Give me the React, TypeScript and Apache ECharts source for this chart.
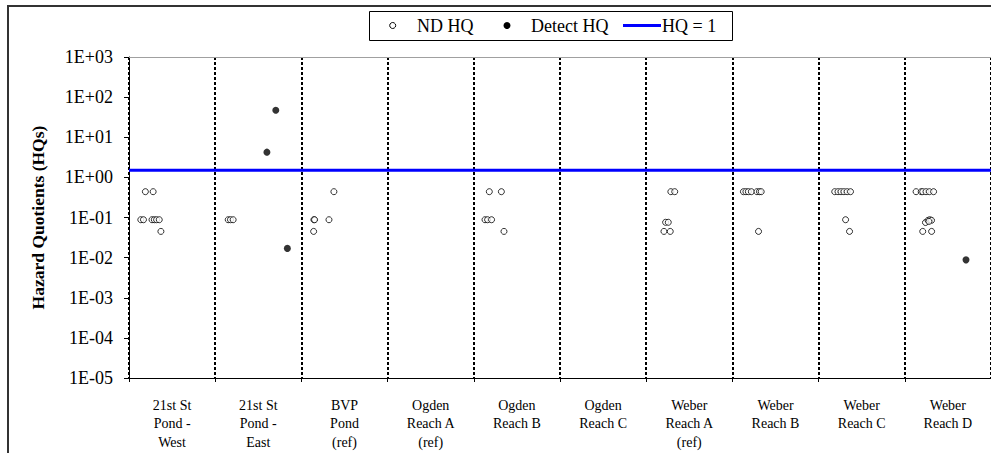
import React, { useEffect, useRef } from "react";
import * as echarts from "echarts";

// Sampling locations along the x axis
const categories = [
  "21st St\nPond -\nWest",
  "21st St\nPond -\nEast",
  "BVP\nPond\n(ref)",
  "Ogden\nReach A\n(ref)",
  "Ogden\nReach B",
  "Ogden\nReach C",
  "Weber\nReach A\n(ref)",
  "Weber\nReach B",
  "Weber\nReach C",
  "Weber\nReach D",
];

// Log-axis tick labels, from 1E-05 up to 1E+03
const yTickLabels = ["1E-05", "1E-04", "1E-03", "1E-02", "1E-01", "1E+00", "1E+01", "1E+02", "1E+03"];

// Non-detect hazard quotients: [position along the location axis, HQ]
const ndHQ: [number, number][] = [
  // 21st St Pond - West
  [0.19, 0.44], [0.28, 0.44],
  [0.137, 0.088], [0.168, 0.088], [0.267, 0.088], [0.294, 0.088], [0.32, 0.088], [0.351, 0.088],
  [0.37, 0.045],
  // 21st St Pond - East
  [1.151, 0.088], [1.177, 0.088], [1.208, 0.088],
  // BVP Pond (ref)
  [2.377, 0.44],
  [2.145, 0.088], [2.153, 0.088], [2.32, 0.088],
  [2.142, 0.045],
  // Ogden Reach B
  [4.18, 0.44], [4.32, 0.44],
  [4.13, 0.088], [4.16, 0.088], [4.206, 0.088],
  [4.35, 0.045],
  // Weber Reach A (ref)
  [6.286, 0.44], [6.331, 0.44],
  [6.225, 0.076], [6.256, 0.076],
  [6.206, 0.045], [6.279, 0.045],
  // Weber Reach B
  [7.128, 0.44], [7.157, 0.44], [7.185, 0.44], [7.22, 0.44], [7.285, 0.44], [7.314, 0.44], [7.334, 0.44],
  [7.303, 0.045],
  // Weber Reach C
  [8.187, 0.44], [8.225, 0.44], [8.26, 0.44], [8.294, 0.44], [8.331, 0.44], [8.37, 0.44],
  [8.313, 0.088],
  [8.359, 0.045],
  // Weber Reach D
  [9.131, 0.44], [9.19, 0.44], [9.208, 0.44], [9.246, 0.44], [9.285, 0.44], [9.334, 0.44],
  [9.24, 0.075], [9.27, 0.085], [9.29, 0.088], [9.31, 0.085], [9.28, 0.08],
  [9.208, 0.045], [9.311, 0.045],
];

// Detected hazard quotients: [position along the location axis, HQ]
const detectHQ: [number, number][] = [
  [1.6, 4.25], [1.703, 47], [1.837, 0.017],
  [9.71, 0.0088],
];

// Reference threshold line
const hqLineLevel = 1.5;

const serif = "Liberation Serif";

function tickLabel(v: number): string {
  const e = Math.round(Math.log10(v));
  return yTickLabels[e + 5] ?? "";
}

export default function App() {
  const ref = useRef<HTMLDivElement>(null);

  useEffect(() => {
    if (!ref.current) return;
    const chart = echarts.init(ref.current, undefined, { renderer: "svg" });

    const legendY = 25.5;
    const legendText = (text: string, x: number) => ({
      type: "text",
      x,
      y: legendY,
      style: {
        text,
        fontFamily: serif,
        fontSize: 18,
        fill: "#000",
        verticalAlign: "middle",
      },
    });

    chart.setOption({
      animation: false,
      backgroundColor: "#ffffff",
      textStyle: { fontFamily: serif },
      grid: { left: 129, top: 57, width: 875, height: 321, containLabel: false },
      xAxis: [
        {
          type: "category",
          data: categories,
          boundaryGap: true,
          position: "bottom",
          axisLine: { show: true, lineStyle: { color: "#000", width: 1 } },
          axisTick: { show: true, length: 4, lineStyle: { color: "#000" } },
          axisLabel: {
            interval: 0,
            margin: 18,
            fontFamily: serif,
            fontSize: 14,
            lineHeight: 18.5,
            color: "#000",
          },
          splitLine: {
            show: true,
            lineStyle: { color: "#000", width: 2, type: [3, 2] },
          },
        },
        {
          type: "value",
          min: 0,
          max: 10,
          position: "top",
          axisLine: { show: true, onZero: false, lineStyle: { color: "#a0a0a0", width: 1 } },
          axisTick: { show: false },
          axisLabel: { show: false },
          splitLine: { show: false },
        },
      ],
      yAxis: {
        type: "log",
        logBase: 10,
        min: 1e-5,
        max: 1e3,
        name: "Hazard Quotients (HQs)",
        nameLocation: "middle",
        nameGap: 82,
        nameTextStyle: {
          fontFamily: serif,
          fontSize: 17.5,
          fontWeight: "bold",
          color: "#000",
        },
        axisLine: { show: true, lineStyle: { color: "#000", width: 1 } },
        axisTick: { show: true, length: 5, lineStyle: { color: "#000" } },
        axisLabel: {
          formatter: tickLabel,
          margin: 16,
          fontFamily: serif,
          fontSize: 18,
          color: "#000",
        },
        splitLine: { show: false },
      },
      series: [
        {
          name: "HQ = 1",
          type: "line",
          xAxisIndex: 1,
          data: [[0, hqLineLevel], [10, hqLineLevel]],
          symbol: "none",
          lineStyle: { color: "#0000ff", width: 3 },
          z: 1,
        },
        {
          name: "ND HQ",
          type: "scatter",
          xAxisIndex: 1,
          data: ndHQ,
          symbol: "circle",
          symbolSize: 6,
          itemStyle: { color: "#ffffff", borderColor: "#000", borderWidth: 1 },
          z: 3,
        },
        {
          name: "Detect HQ",
          type: "scatter",
          xAxisIndex: 1,
          data: detectHQ,
          symbol: "circle",
          symbolSize: 7,
          itemStyle: { color: "#000" },
          z: 4,
        },
      ],
      graphic: [
        // outer chart frame
        {
          type: "rect",
          shape: { x: 8, y: 6, width: 1100, height: 600 },
          style: { fill: "none", stroke: "#333", lineWidth: 2 },
          silent: true,
          z: 0,
        },
        // legend box
        {
          type: "group",
          z: 10,
          children: [
            {
              type: "rect",
              shape: { x: 369.5, y: 11.5, width: 363, height: 29 },
              style: { fill: "#fff", stroke: "#000", lineWidth: 1 },
            },
            {
              type: "circle",
              shape: { cx: 392.7, cy: legendY, r: 3 },
              style: { fill: "#fff", stroke: "#000", lineWidth: 1 },
            },
            legendText("ND HQ", 417),
            {
              type: "circle",
              shape: { cx: 507, cy: legendY, r: 3.5 },
              style: { fill: "#000" },
            },
            legendText("Detect HQ", 531),
            {
              type: "line",
              shape: { x1: 623, y1: legendY, x2: 661, y2: legendY },
              style: { stroke: "#0000ff", lineWidth: 3 },
            },
            legendText("HQ = 1", 662),
          ],
        },
      ],
    });

    return () => chart.dispose();
  }, []);

  return (
    <div
      ref={ref}
      style={{ position: "fixed", left: 0, top: 0, width: 991, height: 453, background: "#fff" }}
    />
  );
}
